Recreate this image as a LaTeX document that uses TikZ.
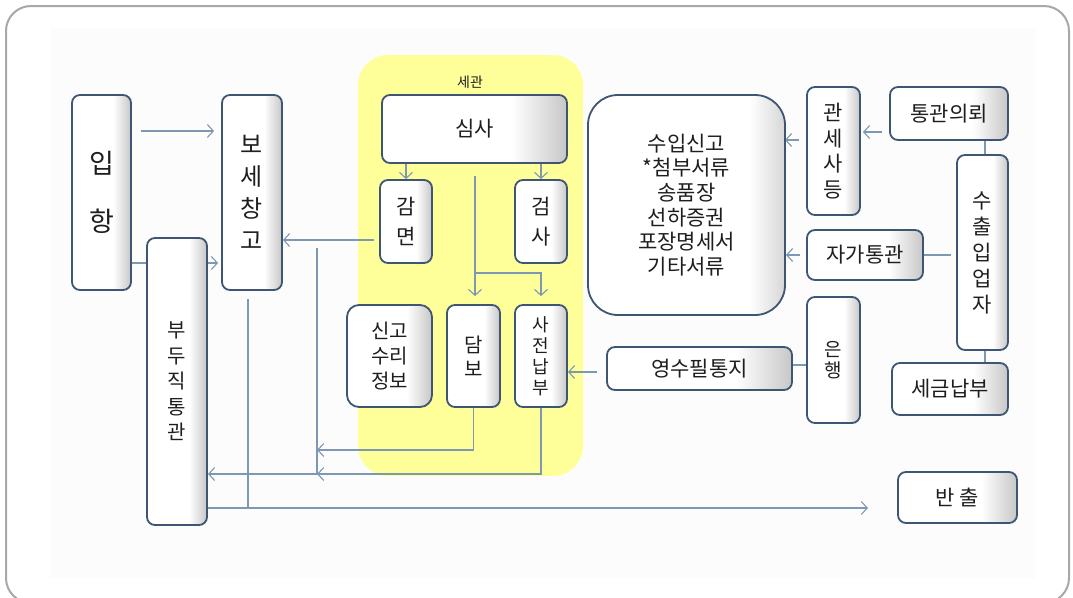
\documentclass[tikz,border=0pt]{standalone}
\usepackage{fontspec}
\setmainfont{Noto Sans CJK KR}
\usetikzlibrary{arrows.meta,calc}
\definecolor{boxc}{HTML}{3E5573}
\definecolor{linec}{HTML}{7D98B3}
\definecolor{yel}{HTML}{FFFF99}
\definecolor{framec}{HTML}{A8A8A8}
\definecolor{txt}{HTML}{1E1E1E}
\pgfdeclarehorizontalshading{bevel}{100bp}{color(0bp)=(white); color(25bp)=(white); color(60bp)=(white); color(75bp)=(black!22); color(100bp)=(black!22)}
\pgfdeclarehorizontalshading{bevelbig}{100bp}{color(0bp)=(white); color(25bp)=(white); color(66bp)=(white); color(75bp)=(black!16); color(100bp)=(black!16)}
\pgfdeclarelayer{bg}\pgfdeclarelayer{edges}\pgfsetlayers{bg,edges,main}
\tikzset{
  box/.style={draw=boxc, line width=1.8pt, rounded corners=8pt, shading=bevel, shade, inner sep=0pt, align=center, text=txt},
  arr/.style={draw=linec, line width=1.1pt, -{Straight Barb[length=6pt,width=13pt,line width=1.1pt]}},
  ln/.style={draw=linec, line width=1.1pt},
}
\newcommand{\fs}[2]{\fontsize{#1}{#2}\selectfont}
\begin{document}
\begin{tikzpicture}[x=1pt,y=-1pt]
\useasboundingbox (0,0) rectangle (1073,597);
\begin{pgfonlayer}{bg}
  \fill[white] (0,0) rectangle (1073,597);
  \fill[black!1] (50,28) rectangle (1036,578);
  \draw[framec, line width=2pt, rounded corners=25pt] (6,6) rectangle (1069,603);
  \fill[yel, rounded corners=30pt] (358,55) rectangle (583,476);
\end{pgfonlayer}

\node[font=\fs{14}{14}, text=txt] (sg0) at (470,82) {세관};

\node[box, minimum width=59pt, minimum height=195pt, font=\fs{27}{58}] (ip) at (101.5,192.5) {입\\항};
\node[box, minimum width=60pt, minimum height=195pt, font=\fs{24}{32}] (bw) at (252,192.5) {보\\세\\창\\고};
\node[box, minimum width=60pt, minimum height=287pt, font=\fs{20}{25.5}] (bd) at (177,381.5) {부\\두\\직\\통\\관};
\node[box, minimum width=185pt, minimum height=68pt, font=\fs{21}{24}] (ss) at (474.5,129) {심사};
\node[box, minimum width=52pt, minimum height=83pt, font=\fs{21}{30}] (gm) at (406,221.5) {감\\면};
\node[box, minimum width=52pt, minimum height=83pt, font=\fs{21}{30}] (gs) at (541,221.5) {검\\사};
\node[box, minimum width=85pt, minimum height=102pt, rounded corners=12pt, font=\fs{20}{25}] (sg) at (389.5,356) {신고\\수리\\정보};
\node[box, minimum width=53pt, minimum height=102pt, font=\fs{20}{24}] (db) at (473.5,356) {담\\보};
\node[box, minimum width=52pt, minimum height=102pt, font=\fs{18}{21}] (sj) at (541,356) {사\\전\\납\\부};
\node[box, shading=bevelbig, minimum width=197pt, minimum height=220pt, rounded corners=30pt, font=\fs{21}{24.6}] (sd) at (686.5,205) {수입신고\\*첨부서류\\송품장\\선하증권\\포장명세서\\기타서류};
\node[box, minimum width=53pt, minimum height=128pt, font=\fs{21}{25.7}] (gsd) at (833.5,151) {관\\세\\사\\등};
\node[box, minimum width=118pt, minimum height=53pt, font=\fs{21}{24}] (tu) at (949,113.5) {통관의뢰};
\node[box, minimum width=116pt, minimum height=50pt, font=\fs{21}{24}] (jg) at (865,255) {자가통관};
\node[box, minimum width=51pt, minimum height=195pt, font=\fs{21}{26}] (sc) at (982.5,252.5) {수\\출\\입\\업\\자};
\node[box, minimum width=53pt, minimum height=126pt, font=\fs{19}{21}] (eh) at (833.5,360) {은\\행};
\node[box, minimum width=185pt, minimum height=43pt, font=\fs{21}{24}] (ys) at (699.5,368.5) {영수필통지};
\node[box, minimum width=116pt, minimum height=52pt, font=\fs{21}{24}] (sn) at (950,389) {세금납부};
\node[box, minimum width=119pt, minimum height=51pt, font=\fs{21}{24}] (bc) at (957.5,497.5) {반 출};

\coordinate (vtop) at (317,248);
\coordinate (vbot) at (317,475);
\coordinate (j1) at (317,450);
\coordinate (j2) at (317,474);
\coordinate (j3) at (475,273);
\coordinate (bend) at (868,508);

\begin{pgfonlayer}{edges}
  \draw[arr] ([xshift=9pt]ip.east |- 0,131) -- ([xshift=-7pt]bw.west |- 0,131);
  \draw[arr] (ip.east |- 0,263) -- ([xshift=-3pt]bw.west |- 0,263);
  \draw[arr] ([xshift=-5pt]gm.west |- 0,240) -- (bw.east |- 0,240);
  \draw[ln] (vtop) -- (vbot);
  \draw[arr] (db.south) |- (j1);
  \draw[arr] (sj.south) |- (j2);
  \draw[arr] (j2) -- (bd.east |- j2);
  \draw[ln] ([xshift=-4pt, yshift=-8pt]bw.south) -- ([xshift=-4pt]bw.south |- bend);
  \draw[arr] (bd.east |- bend) -- (bend);
  \draw[arr] (ss.south -| gm.north) -- (gm.north);
  \draw[arr] (ss.south -| gs.north) -- (gs.north);
  \draw[arr] ([yshift=-12pt]ss.south -| j3) -- ([yshift=8pt]db.north -| j3);
  \draw[arr] (j3) -| ([yshift=8pt]sj.north);
  \draw[arr] ([xshift=-7pt]tu.west |- 0,132) -- ([xshift=2pt]gsd.east |- 0,132);
  \draw[arr] ([xshift=-7pt]gsd.west |- 0,140) -- ([xshift=-1pt]sd.east |- 0,140);
  \draw[arr] ([xshift=-6pt]jg.west) -- (jg.west -| sd.east);
  \draw[ln] (jg.east) -- ([xshift=-5pt]sc.west |- jg.east);
  \draw[ln] (tu.south -| 985,0) -- (sc.north -| 985,0);
  \draw[ln] (sc.south -| 985,0) -- (sn.north -| 985,0);
  \draw[ln] (ys.east |- 0,365) -- (eh.west |- 0,365);
  \draw[arr] ([xshift=-9pt]ys.west |- 0,372) -- (sj.east |- 0,372);
\end{pgfonlayer}
\end{tikzpicture}
\end{document}
